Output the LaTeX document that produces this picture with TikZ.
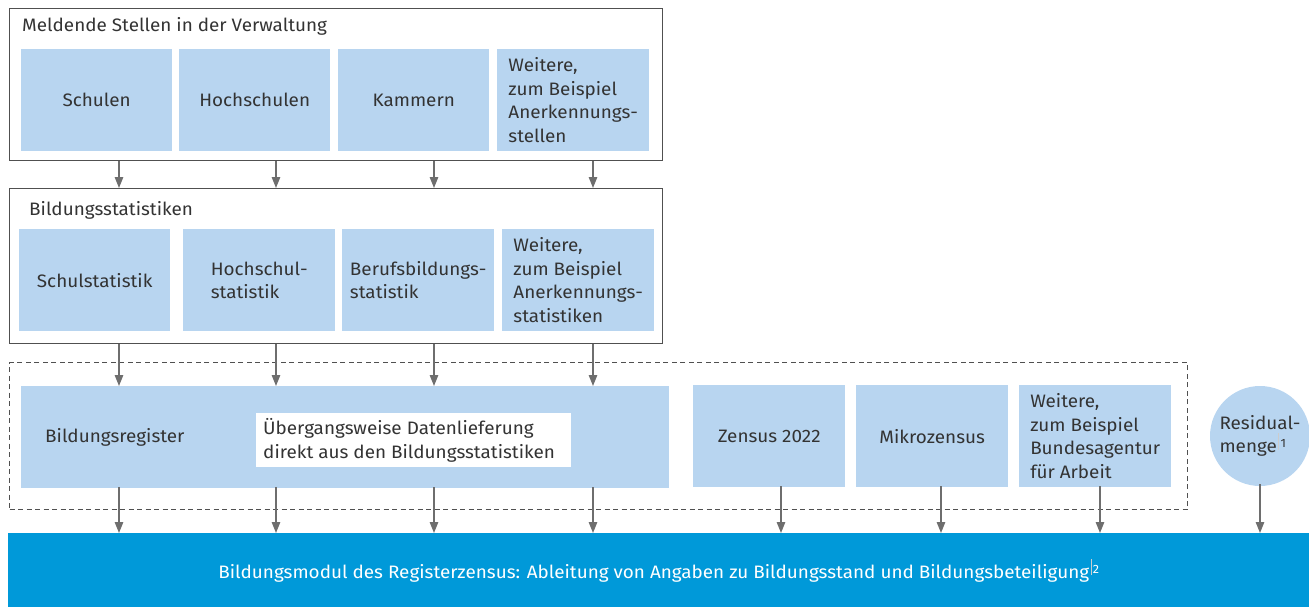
\documentclass[tikz,border=0pt]{standalone}
\usepackage{fontspec}
\setmainfont[FakeStretch=1.05]{Fira Sans}
\usetikzlibrary{arrows.meta}
\definecolor{lblue}{HTML}{B8D5F0}
\definecolor{dblue}{HTML}{0099D9}
\definecolor{frame}{HTML}{505050}
\definecolor{arrc}{HTML}{6E6E6E}
\definecolor{txt}{HTML}{333333}
\newcommand{\fn}[1]{\kern1.5pt{\color{white!60!gray}\raisebox{0.35ex}{\rule{0.6pt}{1.7ex}}}\kern1.5pt\raisebox{0.55ex}{\fontsize{12}{12}\selectfont #1}}
\begin{document}
\begin{tikzpicture}[x=1pt,y=-1pt,
  every node/.style={font=\fontsize{18}{23.5}\selectfont, text=txt, inner sep=0pt},
  lbox/.style={fill=lblue, anchor=north west, align=left},
  framebox/.style={draw=frame, line width=1.2pt, anchor=north west},
  arr/.style={draw=arrc, line width=1.3pt, -{Triangle[length=11pt,width=8.5pt]}},
  title/.style={anchor=west}
]
\useasboundingbox (0,0) rectangle (1309,607);
% frames
\node[framebox, minimum width=653pt, minimum height=152pt] (box1) at (9,8) {};
\node[framebox, minimum width=653pt, minimum height=155pt] (box2) at (9,188) {};
\node[draw=frame, line width=1.1pt, dash pattern=on 5pt off 3.5pt, anchor=north west, minimum width=1178pt, minimum height=147pt] (dbox) at (9,362) {};
\node[title] (t1) at (22,26) {Meldende Stellen in der Verwaltung};
\node[title] (t2) at (29,210) {Bildungsstatistiken};
% row 1
\node[lbox, minimum width=151pt, minimum height=102pt] (schulen) at (21,49) {};
\node at (schulen.center) {Schulen};
\node[lbox, minimum width=151pt, minimum height=102pt] (hochschulen) at (179,49) {};
\node at (hochschulen.center) {Hochschulen};
\node[lbox, minimum width=151pt, minimum height=102pt] (kammern) at (338,49) {};
\node at (kammern.center) {Kammern};
\node[lbox, minimum width=152pt, minimum height=102pt] (weitere1) at (497,49) {};
\node[align=left] at (weitere1.center) {Weitere,\\zum Beispiel\\Anerkennungs-\\stellen};
% row 2
\node[lbox, minimum width=151pt, minimum height=102pt] (schulstat) at (19,229) {};
\node at (schulstat.center) {Schulstatistik};
\node[lbox, minimum width=152pt, minimum height=102pt] (hochstat) at (183,229) {};
\node[align=left] at (hochstat.center) {Hochschul-\\statistik};
\node[lbox, minimum width=152pt, minimum height=102pt] (berufstat) at (342,229) {};
\node[align=left] at (berufstat.center) {Berufsbildungs-\\statistik};
\node[lbox, minimum width=152pt, minimum height=102pt] (weitere2) at (502,229) {};
\node[align=left] at (weitere2.center) {Weitere,\\zum Beispiel\\Anerkennungs-\\statistiken};
% row 3
\node[lbox, minimum width=648pt, minimum height=102pt] (breg) at (21,386) {};
\node[anchor=west] at ([xshift=24pt]breg.west) {Bildungsregister};
\node[fill=white, anchor=north west, minimum width=315pt, minimum height=54pt] (uebg) at (256,413) {};
\node[align=left, anchor=west] at ([xshift=7pt]uebg.west) {Übergangsweise Datenlieferung\\direkt aus den Bildungsstatistiken};
\node[lbox, minimum width=152pt, minimum height=102pt] (zensus) at (693,385) {};
\node at (zensus.center) {Zensus 2022};
\node[lbox, minimum width=152pt, minimum height=102pt] (mikro) at (856,385) {};
\node at (mikro.center) {Mikrozensus};
\node[lbox, minimum width=152pt, minimum height=102pt] (weitere3) at (1019,385) {};
\node[align=left] at (weitere3.center) {Weitere,\\zum Beispiel\\Bundesagentur\\für Arbeit};
\node[circle, fill=lblue, minimum size=100pt] (resid) at (1260,436) {};
\node[align=left] at (resid.center) {Residual-\\menge\fn{1}};
% bar
\node[fill=dblue, anchor=north west, minimum width=1301pt, minimum height=75pt] (bar) at (8,533) {};
\node[text=white] at (bar.center) {Bildungsmodul des Registerzensus: Ableitung von Angaben zu Bildungsstand und Bildungsbeteiligung\fn{2}};
% columns
\coordinate (c1) at (119,0);
\coordinate (c2) at (276,0);
\coordinate (c3) at (434,0);
\coordinate (c4) at (593,0);
\foreach \c in {c1,c2,c3,c4}{
  \draw[arr] (\c |- box1.south) -- (\c |- box2.north);
  \draw[arr] (\c |- box2.south) -- (\c |- breg.north);
  \draw[arr] ([yshift=1pt]\c |- breg.south) -- (\c |- bar.north);
}
\coordinate (c5) at (781,0);
\coordinate (c6) at (941,0);
\coordinate (c7) at (1100,0);
\draw[arr] ([yshift=1pt]c5 |- zensus.south) -- (c5 |- bar.north);
\draw[arr] ([yshift=1pt]c6 |- mikro.south) -- (c6 |- bar.north);
\draw[arr] ([yshift=1pt]c7 |- weitere3.south) -- (c7 |- bar.north);
\draw[arr] ([yshift=2pt]resid.south) -- (resid.south |- bar.north);
\end{tikzpicture}
\end{document}
